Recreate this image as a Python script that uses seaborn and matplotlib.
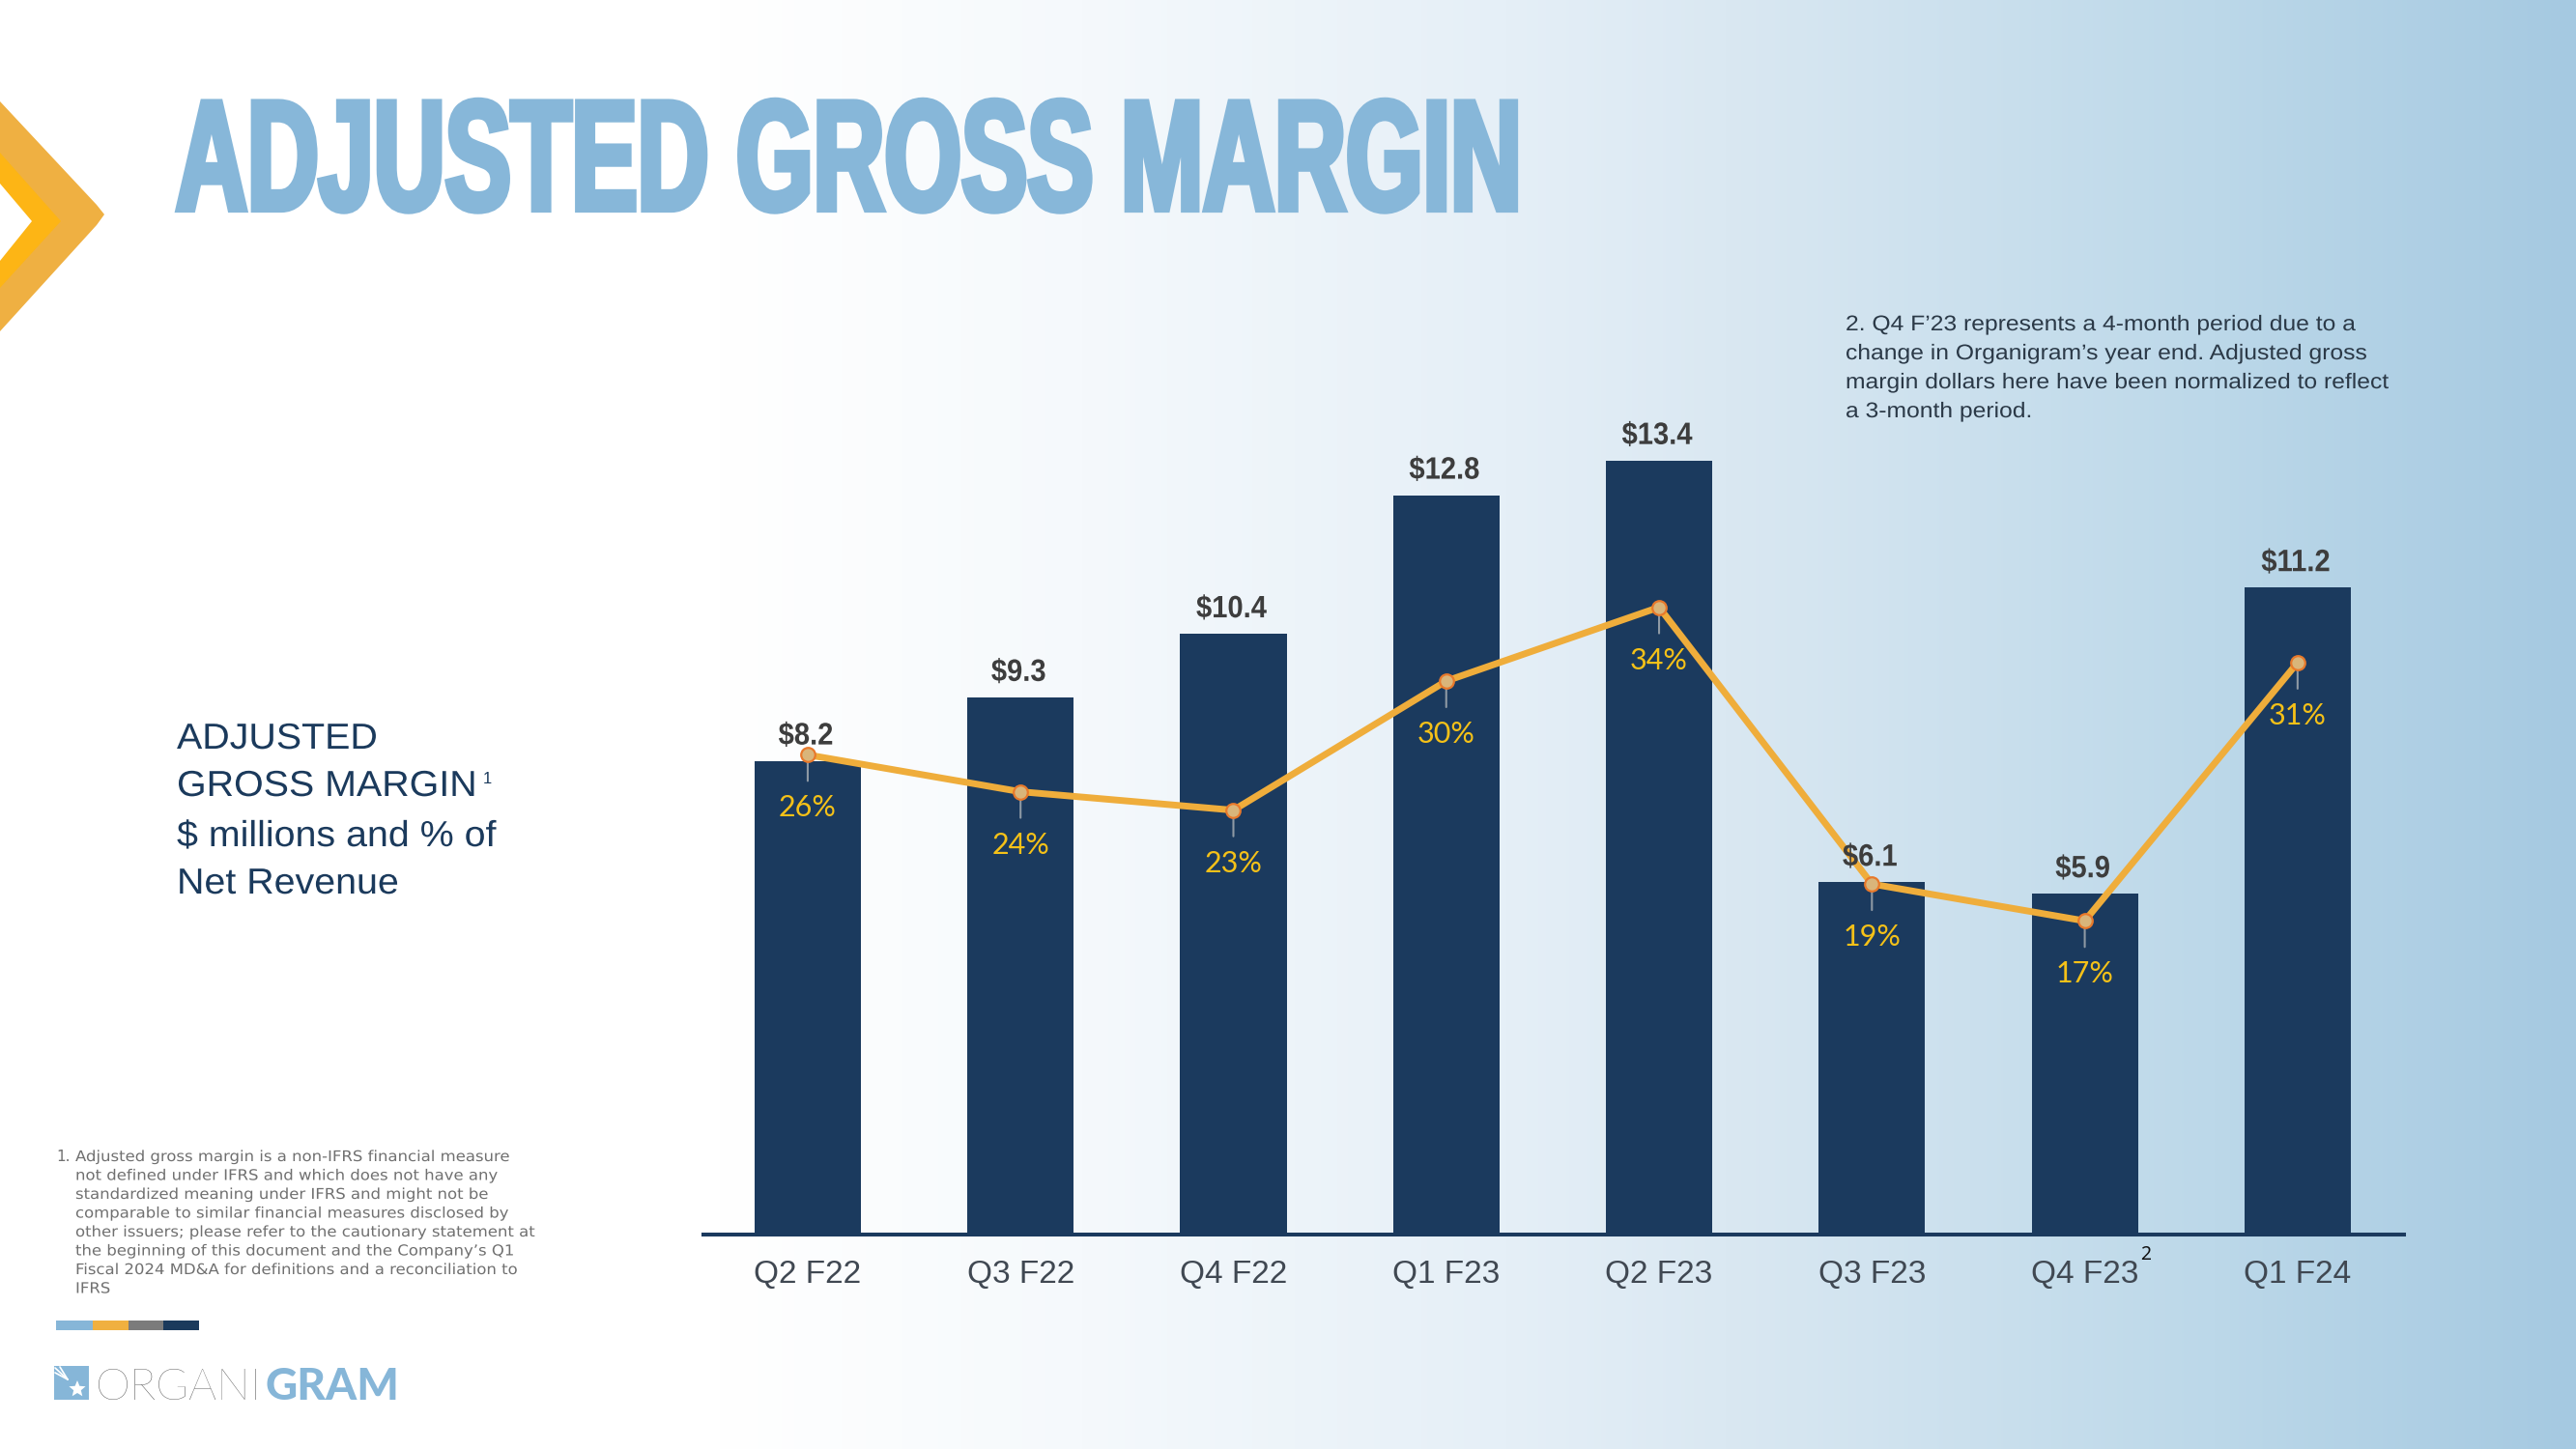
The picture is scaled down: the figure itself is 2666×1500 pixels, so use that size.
import numpy as np
import pandas as pd
import matplotlib
matplotlib.use("Agg")
import matplotlib.pyplot as plt
import seaborn as sns
from matplotlib.patches import Polygon, Rectangle
from matplotlib.patheffects import AbstractPathEffect
from matplotlib.transforms import Affine2D
import matplotlib.colors as mcolors

# ---------------- data ----------------
quarters = ["Q2 F22", "Q3 F22", "Q4 F22", "Q1 F23", "Q2 F23", "Q3 F23", "Q4 F23", "Q1 F24"]
margin_musd = [8.2, 9.3, 10.4, 12.8, 13.4, 6.1, 5.9, 11.2]
margin_pct = [26, 24, 23, 30, 34, 19, 17, 31]
footnote_quarter = "Q4 F23"

title_text = "ADJUSTED GROSS MARGIN"
side_lines = ["ADJUSTED", "GROSS MARGIN", "$ millions and % of", "Net Revenue"]
note_lines = [
    "2. Q4 F\u201923 represents a 4-month period due to a",
    "change in Organigram\u2019s year end. Adjusted gross",
    "margin dollars here have been normalized to reflect",
    "a 3-month period.",
]
foot_lines = [
    "Adjusted gross margin is a non-IFRS financial measure",
    "not defined under IFRS and which does not have any",
    "standardized meaning under IFRS and might not be",
    "comparable to similar financial measures disclosed by",
    "other issuers; please refer to the cautionary statement at",
    "the beginning of this document and the Company\u2019s Q1",
    "Fiscal 2024 MD&A for definitions and a reconciliation to",
    "IFRS",
]

# ---------------- style ----------------
NAVY = "#1B3A5E"
LINE = "#EFAD3B"
LIGHTBLUE = "#87B7D9"
PCT_COL = "#F5C118"
W, H, DPI = 2666, 1500, 100

sns.set_theme(style="white")
plt.rcParams["font.family"] = ["Liberation Sans", "DejaVu Sans"]

fig = plt.figure(figsize=(W / DPI, H / DPI), dpi=DPI)


def fx(x):
    return x / W


def fy(y):
    return 1 - y / H


class Stretch(AbstractPathEffect):
    """Draw text glyphs scaled horizontally / vertically about their baseline origin."""

    def __init__(self, sx=1.0, sy=1.0, stroke=0.0):
        super().__init__()
        self.sx, self.sy, self.stroke = sx, sy, stroke

    def draw_path(self, renderer, gc, tpath, affine, rgbFace=None):
        aff = Affine2D().scale(self.sx, self.sy) + affine
        if self.stroke > 0:
            gc0 = renderer.new_gc()
            gc0.copy_properties(gc)
            gc0.set_linewidth(self.stroke)
            gc0.set_foreground(rgbFace)
            gc0.set_joinstyle("miter")
            renderer.draw_path(gc0, tpath, aff, None)
            gc0.restore()
        renderer.draw_path(gc, tpath, aff, rgbFace)


# background gradient
bg = fig.add_axes([0, 0, 1, 1], zorder=-10)
stops = [(0, "#FFFFFF"), (0.28, "#FFFFFF"), (0.42, "#F5F9FC"), (0.585, "#E5EFF7"),
         (0.67, "#DAE8F2"), (0.86, "#BCD8E9"), (1.0, "#A5C9E1")]
xs = np.linspace(0, 1, 1200)
pos = [s[0] for s in stops]
rgb = np.array([mcolors.to_rgb(s[1]) for s in stops])
grad = np.stack([np.interp(xs, pos, rgb[:, k]) for k in range(3)], axis=-1)[None, :, :]
bg.imshow(grad, aspect="auto", extent=[0, 1, 0, 1])
bg.set_xlim(0, 1)
bg.set_ylim(0, 1)
bg.axis("off")


def poly(pts, color, z=1):
    p = Polygon([(fx(a), fy(b)) for a, b in pts], closed=True, transform=fig.transFigure,
                facecolor=color, edgecolor="none", zorder=z)
    fig.patches.append(p)


# chevron
poly([(0, 105), (100, 212), (108, 222), (100, 233), (0, 343)], "#EFB042", 1)
poly([(0, 158), (63, 229), (0, 298)], "#FDB515", 2)
poly([(0, 190), (33, 229), (0, 270)], "#FFFFFF", 3)

# colour strip
for (x0, x1, c) in [(58, 96, "#86B6D8"), (96, 133, "#F0B040"), (133, 169, "#7B7B7B"), (169, 206, "#1B3A5C")]:
    fig.patches.append(Rectangle((fx(x0), fy(1377)), (x1 - x0) / W, 10 / H, transform=fig.transFigure,
                                 facecolor=c, edgecolor="none"))

# logo icon
fig.patches.append(Rectangle((fx(56), fy(1449)), 36 / W, 35 / H, transform=fig.transFigure,
                             facecolor="#86B6D8", edgecolor="none"))
ang = np.linspace(0, 2 * np.pi, 11)[:-1] + np.pi / 2
rad = np.where(np.arange(10) % 2 == 0, 9, 4)
poly([(80 + r * np.cos(a), 1438 - r * np.sin(a)) for r, a in zip(rad, ang)], "#FFFFFF", 3)
for (a0, b0, a1, b1) in [(57, 1416, 70, 1428), (62, 1415, 70, 1428), (57, 1421, 70, 1428)]:
    fig.lines.append(plt.Line2D([fx(a0), fx(a1)], [fy(b0), fy(b1)], transform=fig.transFigure,
                                color="white", lw=1.2))

TITLE_PT = 116
title = fig.text(fx(182), fy(217), title_text, fontsize=TITLE_PT, fontweight="bold",
                 family="Liberation Sans", color=LIGHTBLUE, ha="left", va="baseline")

# ---------------- chart ----------------
df = pd.DataFrame({"quarter": quarters, "margin": margin_musd, "pct": margin_pct})

ax_bottom, ax_top = 1278, 400
ax = fig.add_axes([fx(728), fy(ax_bottom), 1760 / W, (ax_bottom - ax_top) / H])
ax.set_facecolor("none")
sns.barplot(data=df, x="quarter", y="margin", color=NAVY, saturation=1, width=0.5, ax=ax,
            zorder=2, linewidth=0, edgecolor=NAVY)

ax2 = ax.twinx()
ax2.set_facecolor("none")
sns.pointplot(data=df, x="quarter", y="pct", color=LINE, ax=ax2, markers="o", errorbar=None,
              linewidth=5, markersize=10.5, markeredgewidth=1.6)
for ln in ax2.lines:
    ln.set_color(LINE)
    ln.set_linewidth(5)
    ln.set_markerfacecolor("#D9B57A")
    ln.set_markeredgecolor("#E8792B")
    ln.set_markeredgewidth(1.6)
    ln.set_markersize(10.5)
    ln.set_zorder(3)

px_h = ax_bottom - ax_top
ax.set_ylim(0, px_h / 59.8)
ax2.set_ylim(0, px_h / 19.1)
ax.set_xlim(-0.49, 7.5)

for s in ["top", "left", "right"]:
    ax.spines[s].set_visible(False)
ax.spines["bottom"].set_color(NAVY)
ax.spines["bottom"].set_linewidth(2.9)
for s in ax2.spines.values():
    s.set_visible(False)
ax.set_yticks([])
ax2.set_yticks([])
ax.set_xlabel("")
ax.set_ylabel("")
ax2.set_xlabel("")
ax2.set_ylabel("")
ax.tick_params(axis="x", length=0, pad=19, labelsize=24, labelcolor="#404852")

# bar value labels (drawn on top layer)
for i, v in enumerate(margin_musd):
    ax2.annotate(f"${v:.1f}", xy=(i, v), xycoords=ax.transData, xytext=(-2, 17),
                 textcoords="offset pixels", ha="center", va="baseline", fontsize=21,
                 fontweight="bold", color="#3D3D3D", zorder=6,
                 path_effects=[Stretch(1.0, 1.1)])

# percentage labels with leader lines
for i, p in enumerate(margin_pct):
    ax2.annotate("", xy=(i, p), xytext=(0, -27), textcoords="offset pixels",
                 arrowprops=dict(arrowstyle="-", color="#8E99A4", lw=1.5, shrinkA=0, shrinkB=0),
                 zorder=2.5)
    ax2.annotate(f"{p}%", xy=(i, p), xytext=(0, -64), textcoords="offset pixels",
                 ha="center", va="baseline", fontsize=22, family=["Lato", "DejaVu Sans"],
                 color=PCT_COL, zorder=6)

# superscript on the Q4 F23 tick
ax.annotate("2", xy=(quarters.index(footnote_quarter), 0), xycoords="data", xytext=(63, -26),
            textcoords="offset pixels", ha="center", va="baseline", fontsize=14,
            family=["Noto Sans", "DejaVu Sans"], color="#111111", annotation_clip=False)

# ---------------- side text ----------------
side_base = [775, 824, 876, 925]
side_texts = []
for txt, b in zip(side_lines, side_base):
    side_texts.append(fig.text(fx(183), fy(b), txt, fontsize=27, color="#1B3A5C",
                               ha="left", va="baseline", path_effects=[Stretch(1.05, 1.0)]))

for k, txt in enumerate(note_lines):
    fig.text(fx(1910), fy(342 + 30 * k), txt, fontsize=16, color="#2B3947", ha="left",
             va="baseline", path_effects=[Stretch(1.11, 1.0)])

fig.text(fx(58), fy(1202), "1.", fontsize=11, family="DejaVu Sans", color="#707070",
         ha="left", va="baseline")
for k, txt in enumerate(foot_lines):
    fig.text(fx(78), fy(1202 + 19.5 * k), txt, fontsize=11, family="DejaVu Sans", color="#707070",
             ha="left", va="baseline", path_effects=[Stretch(1.08, 1.0)])

logo1 = fig.text(fx(99), fy(1449), "ORGANI", fontsize=33, family=["Lato", "DejaVu Sans"],
                 fontweight="light", color="#555555", ha="left", va="baseline")

# ---------------- measure & finish ----------------
fig.canvas.draw()
r = fig.canvas.get_renderer()
bb = title.get_window_extent(r)
em_px = TITLE_PT * DPI / 72
sy = 116 / (0.716 * em_px)
sx = 1393 / bb.width
title.set_path_effects([Stretch(sx, sy, stroke=4.5)])

bb2 = side_texts[1].get_window_extent(r)
x_end = bb2.x0 + bb2.width * 1.05
fig.text((x_end + 6) / W, fy(811), "1", fontsize=12, color="#1B3A5C", ha="left", va="baseline")

bbl = logo1.get_window_extent(r)
fig.text(bbl.x1 / W + 3 / W, fy(1449), "GRAM", fontsize=33, family=["Lato", "DejaVu Sans"],
         fontweight="black", color="#86B6D8", ha="left", va="baseline")

fig.savefig("out.png", dpi=DPI)
